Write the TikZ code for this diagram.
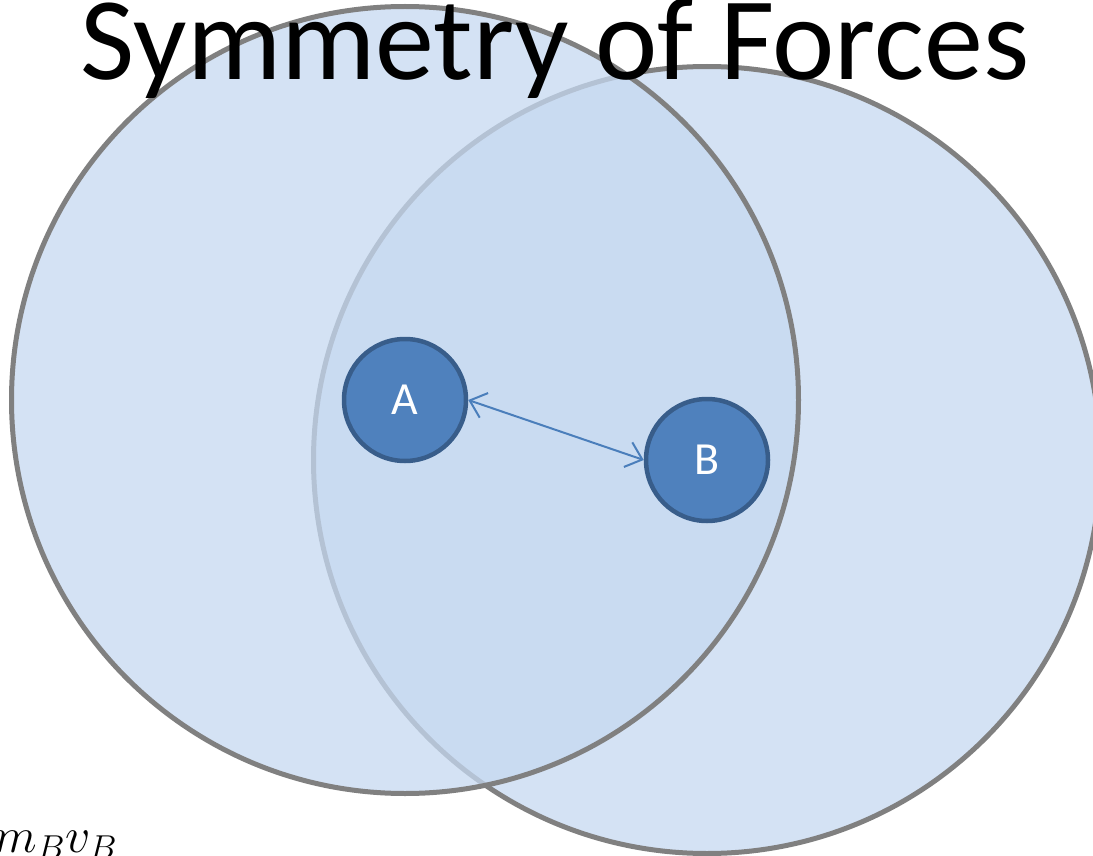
\documentclass[tikz,border=0pt]{standalone}
\usepackage{fontspec}
\setmainfont{Carlito}
\usepackage{xcolor}
\definecolor{cFill}{HTML}{C6D9F1}
\definecolor{cRing}{HTML}{808080}
\definecolor{cBall}{HTML}{4F81BD}
\definecolor{cBallEdge}{HTML}{385D8A}
\definecolor{cLink}{HTML}{4A7EBB}
\usetikzlibrary{arrows.meta}
\tikzset{
  node-field/.style={circle,draw=cRing,line width=5pt,fill=cFill,
    fill opacity=0.75,minimum size=787pt,inner sep=0pt},
  node-ball/.style={circle,draw=cBallEdge,line width=4.5pt,fill=cBall,
    minimum size=122pt,inner sep=0pt,text=white,
    font=\fontsize{46}{55}\selectfont},
  arrow-link/.style={{Straight Barb[length=15pt,width=26pt]}-{Straight Barb[length=15pt,width=26pt]},
    line width=2pt,draw=cLink},
}

\begin{document}
\begin{tikzpicture}[x=1pt,y=-1pt]
  \clip (0,0) rectangle (1093,856);
  \fill[white] (0,0) rectangle (1093,856);
  % the two fields, the right one first so the left one fades its rim
  \node[node-field] (fb) at (707,460) {};
  \node[node-field] (fa) at (405,400) {};
  \node[node-ball] (a) at (405,400) {A};
  \node[node-ball] (b) at (707,460) {B};
  \draw[arrow-link] (a.east) -- (b.west);
  \node[anchor=base,inner sep=0pt,font=\fontsize{118}{130}\selectfont] (title) at (555,80) {Symmetry of Forces};
  \node[anchor=base west,inner sep=0pt,scale=2,font=\fontsize{24}{29}\selectfont] (mom) at (-6,852) {$m_B v_B$};
\end{tikzpicture}
\end{document}
